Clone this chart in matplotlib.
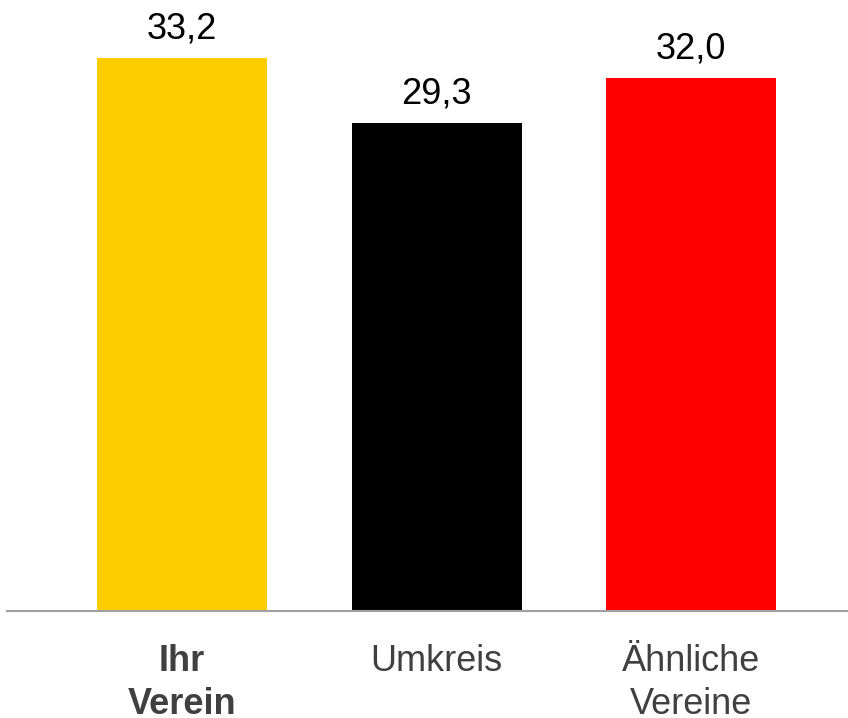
import matplotlib
matplotlib.use('Agg')
import matplotlib.pyplot as plt

# values
categories = ['Ihr\nVerein', 'Umkreis', 'Ähnliche\nVereine']
values = [33.2, 29.3, 32.0]
value_labels = ['33,2', '29,3', '32,0']
colors = ['#FFCC00', '#000000', '#FF0000']

plt.rcParams['font.family'] = ['Liberation Sans', 'DejaVu Sans']

fig = plt.figure(figsize=(8.48, 7.18), dpi=100)
ax = fig.add_axes([7/848, 107/718, 841/848, 611/718])

x = range(len(categories))
bars = ax.bar(x, values, width=0.668, color=colors, zorder=2)

for b, lab in zip(bars, value_labels):
    ax.annotate(lab, (b.get_x() + b.get_width()/2, b.get_height()),
                xytext=(0, 8), textcoords='offset points',
                ha='center', va='bottom', fontsize=26, color='black')

ax.set_xlim(-0.688, 2.617)
ax.set_ylim(0, 36.67)
ax.set_xticks(list(x))
ax.set_xticklabels(categories, fontsize=26, color='#404040', linespacing=1.3)
ax.get_xticklabels()[0].set_fontweight('bold')
ax.tick_params(axis='x', length=0, pad=24)
ax.set_yticks([])

for s in ['top', 'right', 'left']:
    ax.spines[s].set_visible(False)
ax.spines['bottom'].set_color('#a0a0a0')
ax.spines['bottom'].set_linewidth(1.5)

fig.savefig('out.png', dpi=100)
